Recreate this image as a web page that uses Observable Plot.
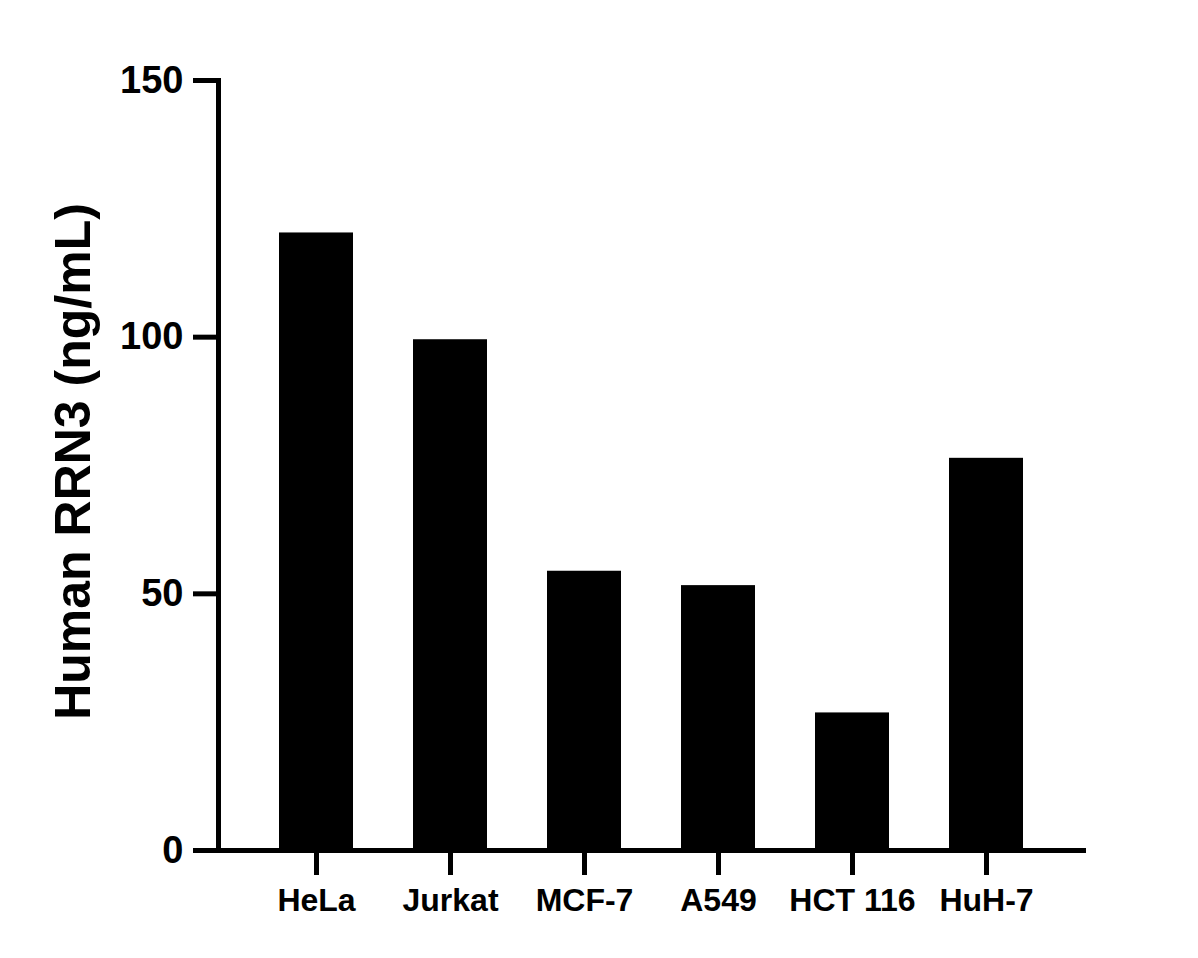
<!DOCTYPE html>
<html>
<head>
<meta charset="utf-8">
<script src="https://cdn.jsdelivr.net/npm/d3@7"></script>
<script src="https://cdn.jsdelivr.net/npm/@observablehq/plot@0.6"></script>
<style>
  html, body { margin: 0; padding: 0; background: #fff; }
  #chart svg { display: block; }
</style>
</head>
<body>
<div id="chart"></div>
<script>
const cellLines = ["HeLa", "Jurkat", "MCF-7", "A549", "HCT 116", "HuH-7"];
const values = [120.3, 99.5, 54.4, 51.6, 26.8, 76.4];
const yTicks = [0, 50, 100, 150];
const yTitle = "Human RRN3 (ng/mL)";

const data = cellLines.map((c, i) => ({cell: c, value: values[i]}));

const chart = Plot.plot({
  width: 1198,
  height: 958,
  marginLeft: 218,
  marginRight: 115,
  marginTop: 80,
  marginBottom: 108,
  style: {fontFamily: "'Liberation Sans', Arial, sans-serif", fontWeight: "bold", color: "#000", background: "#fff"},
  x: {domain: cellLines, paddingInner: 0.448, paddingOuter: 0.4515, label: null},
  y: {domain: [0, 150], label: null},
  marks: [
    Plot.barY(data, {x: "cell", y: "value", fill: "#000"}),
    Plot.axisY({ticks: yTicks, tickSize: 25, tickPadding: 10, fontSize: 38, strokeWidth: 5, label: null, tickFormat: d => d}),
    Plot.axisX({tickSize: 25, tickPadding: 13, fontSize: 32, strokeWidth: 5, label: null}),
    Plot.frame({anchor: "left", strokeWidth: 5, strokeLinecap: "square"}),
    Plot.frame({anchor: "bottom", strokeWidth: 5, strokeLinecap: "square"}),
    Plot.text([yTitle], {frameAnchor: "left", textAnchor: "middle", rotate: -90, dx: -129, dy: -4, lineAnchor: "bottom", fontSize: 50, fontWeight: "bold"})
  ]
});
document.getElementById("chart").appendChild(chart);
</script>
</body>
</html>
